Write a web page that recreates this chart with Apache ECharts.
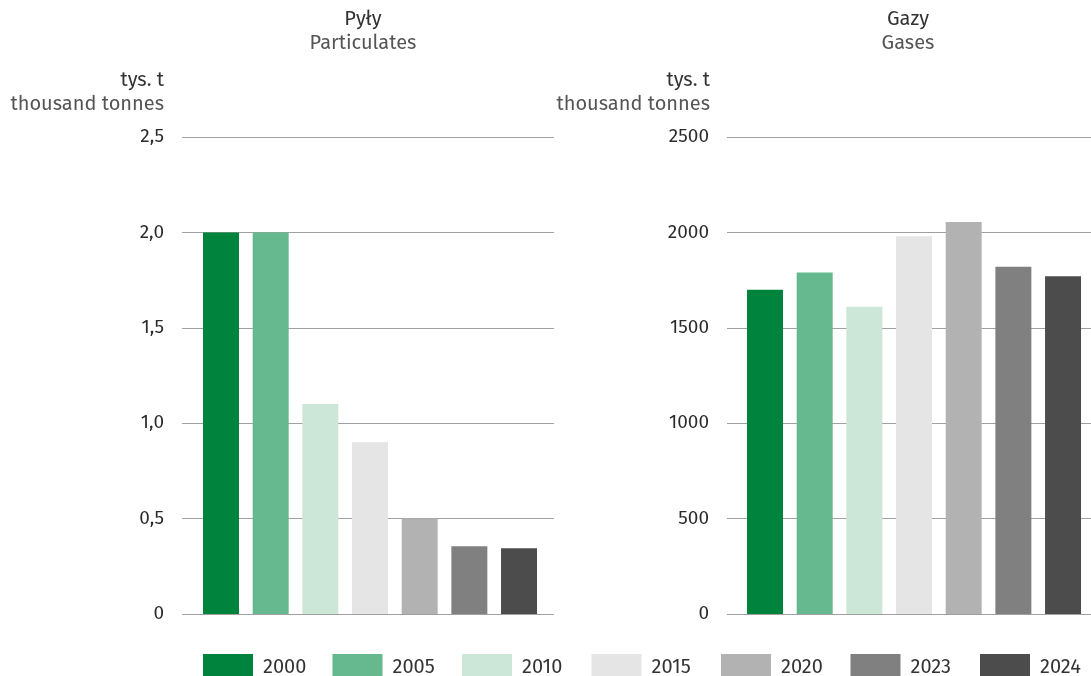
<!DOCTYPE html>
<html>
<head>
<meta charset="utf-8">
<script src="https://cdn.jsdelivr.net/npm/echarts@6/dist/echarts.min.js"></script>
<style>
html,body{margin:0;padding:0;background:#fff;}
#chart{width:1091px;height:676px;}
</style>
</head>
<body>
<div id="chart"></div>
<script>
const years = ['2000', '2005', '2010', '2015', '2020', '2023', '2024'];
const particulates = [2.0, 2.0, 1.1, 0.9, 0.5, 0.355, 0.345];
const gases = [1700, 1790, 1610, 1980, 2055, 1820, 1770];
const colors = ['#00843d', '#66b88e', '#cce6d8', '#e5e5e5', '#b2b2b2', '#808080', '#4c4c4c'];
const leftTicks = { min: 0, max: 2.5, interval: 0.5 };
const rightTicks = { min: 0, max: 2500, interval: 500 };

const FONT = "'Fira Sans', 'Open Sans', sans-serif";
const chart = echarts.init(document.getElementById('chart'));

function txt(text, x, y, align, fill) {
  return {
    type: 'text',
    style: {
      text: text, x: x, y: y,
      textAlign: align, align: align,
      textVerticalAlign: 'middle', verticalAlign: 'middle',
      fontSize: 20, fontFamily: FONT, fill: fill
    }
  };
}

const series = [];
years.forEach((y, i) => {
  series.push({
    type: 'bar', name: y, xAxisIndex: 0, yAxisIndex: 0,
    data: [[i, particulates[i]]], barWidth: 36, barGap: '-100%',
    itemStyle: { color: colors[i] }, silent: true
  });
  series.push({
    type: 'bar', name: y, xAxisIndex: 1, yAxisIndex: 1,
    data: [[i, gases[i]]], barWidth: 36, barGap: '-100%',
    itemStyle: { color: colors[i] }, silent: true
  });
});

function yAxisCfg(gridIndex, t, fmt) {
  return {
    type: 'value', gridIndex: gridIndex,
    min: t.min, max: t.max, interval: t.interval,
    axisLine: { show: false }, axisTick: { show: false },
    axisLabel: { margin: 18, fontSize: 19, color: '#2b2b2b', fontFamily: FONT, formatter: fmt },
    splitLine: { lineStyle: { color: '#a0a0a0', width: 1 } }
  };
}

const legends = years.map((y, i) => ({
  data: [y], left: 198 + 129.5 * i, top: 649,
  itemWidth: 50, itemHeight: 26,
  icon: 'rect',
  textStyle: { fontSize: 20, color: '#333', fontFamily: FONT, padding: [0, 0, 0, 5] }
}));

const option = {
  backgroundColor: '#ffffff',
  animation: false,
  textStyle: { fontFamily: FONT },
  grid: [
    { left: 182, top: 137, width: 372, height: 477 },
    { left: 727, top: 137, width: 364, height: 477 }
  ],
  xAxis: [
    { type: 'value', gridIndex: 0, min: -0.785, max: 6.704, show: false },
    { type: 'value', gridIndex: 1, min: -0.765, max: 6.563, show: false }
  ],
  yAxis: [
    yAxisCfg(0, leftTicks, v => v === 0 ? '0' : v.toFixed(1).replace('.', ',')),
    yAxisCfg(1, rightTicks, v => String(v))
  ],
  legend: legends,
  graphic: [
    txt('Pyły', 363, 19, 'center', '#333'),
    txt('Particulates', 363, 43, 'center', '#555'),
    txt('tys. t', 164, 80, 'right', '#333'),
    txt('thousand tonnes', 164, 104, 'right', '#555'),
    txt('Gazy', 908, 19, 'center', '#333'),
    txt('Gases', 908, 43, 'center', '#555'),
    txt('tys. t', 710, 80, 'right', '#333'),
    txt('thousand tonnes', 710, 104, 'right', '#555')
  ],
  series: series
};
chart.setOption(option);
</script>
</body>
</html>
